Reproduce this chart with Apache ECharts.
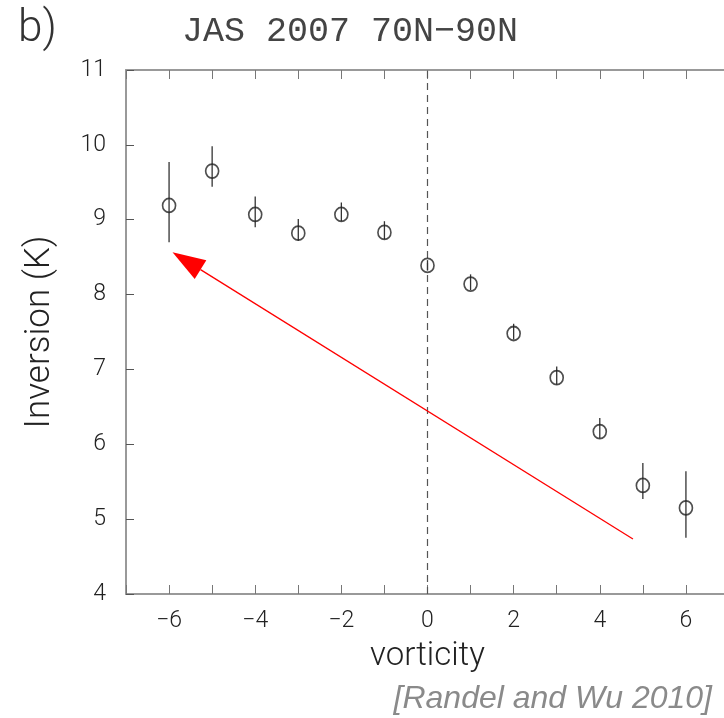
<!DOCTYPE html>
<html>
<head>
<meta charset="utf-8">
<script src="https://cdn.jsdelivr.net/npm/echarts@6/dist/echarts.min.js"></script>
<style>
html,body{margin:0;padding:0;background:#fff;overflow:hidden;}
#chart{width:724px;height:718px;}
</style>
</head>
<body>
<div id="chart"></div>
<script>
// ---- data ----
const vorticity = [-6, -5, -4, -3, -2, -1, 0, 1, 2, 3, 4, 5, 6];
const inversion = [9.19, 9.65, 9.07, 8.82, 9.07, 8.83, 8.39, 8.14, 7.48, 6.89, 6.17, 5.45, 5.15];
const errLow  = [8.70, 9.44, 8.90, 8.72, 8.98, 8.74, 8.32, 8.06, 7.40, 6.80, 6.08, 5.27, 4.75];
const errHigh = [9.77, 9.98, 9.31, 9.01, 9.23, 8.98, 8.46, 8.27, 7.61, 7.04, 6.35, 5.75, 5.64];
const arrowStart = [4.77, 4.735];
const arrowTip = [-5.92, 8.567];
const titleText = 'JAS 2007 70N\u221290N';
const panelLabel = 'b)';
const citation = '[Randel and Wu 2010]';
const xName = 'vorticity';
const yName = 'Inversion (K)';

const FONT = 'Roboto';
const chart = echarts.init(document.getElementById('chart'));

const scatterData = vorticity.map((x, i) => [x, inversion[i]]);
const errData = vorticity.map((x, i) => [x, errLow[i], errHigh[i]]);

function fmtX(v) {
  if (v % 2 !== 0 || Math.abs(v) >= 7) return '';
  return v < 0 ? '\u2212' + Math.abs(v) : String(v);
}

chart.setOption({
  animation: false,
  backgroundColor: '#fff',
  grid: { left: 126, top: 70, width: 603, height: 524, containLabel: false, outerBoundsMode: 'none' },
  graphic: [
    { type: 'text', left: 18, top: 8, style: { text: panelLabel, font: '300 44px ' + FONT, fill: '#333' } },
    { type: 'text', left: 182, top: 14, style: { text: titleText, font: '35px "Liberation Mono"', fill: '#444' } },
    { type: 'text', right: 12, top: 683, style: { text: citation, font: 'italic 32px "Liberation Sans"', fill: '#8a8a8a' } }
  ],
  xAxis: [
    {
      type: 'value', min: -7, max: 7, interval: 1, position: 'bottom',
      name: xName, nameLocation: 'middle', nameGap: 46,
      nameTextStyle: { fontFamily: FONT, fontWeight: 300, fontSize: 33, color: '#222' },
      axisLine: { show: true, onZero: false, lineStyle: { color: '#999', width: 2 } },
      axisTick: { show: true, inside: true, length: 9, lineStyle: { color: '#777', width: 1 } },
      axisLabel: { formatter: fmtX, margin: 16, fontFamily: FONT, fontWeight: 300, fontSize: 23, color: '#222' },
      splitLine: { show: false }
    },
    {
      type: 'value', min: -7, max: 7, interval: 1, position: 'top',
      axisLine: { show: true, onZero: false, lineStyle: { color: '#999', width: 2 } },
      axisTick: { show: true, inside: true, length: 9, lineStyle: { color: '#777', width: 1 } },
      axisLabel: { show: false },
      splitLine: { show: false }
    }
  ],
  yAxis: [
    {
      type: 'value', min: 4, max: 11, interval: 1, position: 'left',
      name: yName, nameLocation: 'middle', nameGap: 68, nameRotate: 90,
      nameTextStyle: { fontFamily: FONT, fontWeight: 300, fontSize: 35, color: '#222' },
      axisLine: { show: true, onZero: false, lineStyle: { color: '#999', width: 2 } },
      axisTick: { show: true, inside: true, length: 8, lineStyle: { color: '#555', width: 1 } },
      axisLabel: { margin: 20, fontFamily: FONT, fontWeight: 300, fontSize: 23, color: '#222' },
      splitLine: { show: false }
    }
  ],
  series: [
    {
      type: 'custom',
      name: 'zeroLine',
      renderItem: function (params, api) {
        const p1 = api.coord([0, 4]);
        const p2 = api.coord([0, 11]);
        return { type: 'line', shape: { x1: p1[0], y1: p1[1], x2: p2[0], y2: p2[1] },
          style: { stroke: '#555', lineWidth: 1.2, lineDash: [7, 5] } };
      },
      data: [[0, 0]],
      silent: true, z: 1
    },
    {
      type: 'custom',
      name: 'errorbars',
      renderItem: function (params, api) {
        const lo = api.coord([api.value(0), api.value(1)]);
        const hi = api.coord([api.value(0), api.value(2)]);
        return { type: 'line', shape: { x1: lo[0], y1: lo[1], x2: hi[0], y2: hi[1] },
          style: { stroke: '#333', lineWidth: 1.3 } };
      },
      encode: { x: 0, y: [1, 2] },
      data: errData,
      silent: true, z: 2
    },
    {
      type: 'scatter',
      name: 'inversion',
      data: scatterData,
      symbol: 'circle',
      symbolSize: [13, 14],
      itemStyle: { color: 'rgba(255,255,255,0)', borderColor: '#222', borderWidth: 1.7 },
      silent: true, z: 3
    },
    {
      type: 'custom',
      name: 'arrow',
      renderItem: function (params, api) {
        const s = api.coord(arrowStart);
        const t = api.coord(arrowTip);
        const dx = t[0] - s[0], dy = t[1] - s[1];
        const len = Math.sqrt(dx * dx + dy * dy);
        const ux = dx / len, uy = dy / len;
        const headLen = 33, headHalf = 11;
        const bx = t[0] - ux * headLen, by = t[1] - uy * headLen;
        const px = -uy, py = ux;
        return { type: 'group', children: [
          { type: 'line', shape: { x1: s[0], y1: s[1], x2: bx, y2: by },
            style: { stroke: '#ff0000', lineWidth: 1.3 } },
          { type: 'polygon', shape: { points: [[t[0], t[1]], [bx + px * headHalf, by + py * headHalf], [bx - px * headHalf, by - py * headHalf]] },
            style: { fill: '#ff0000' } }
        ] };
      },
      data: [[0, 0]],
      silent: true, z: 4
    }
  ]
});
</script>
</body>
</html>
